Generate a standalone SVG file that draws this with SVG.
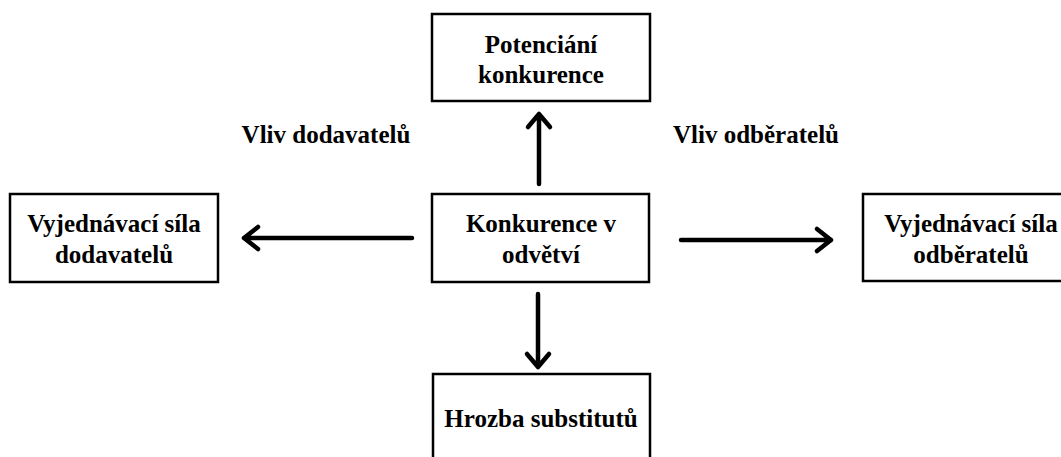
<svg xmlns="http://www.w3.org/2000/svg" width="1061" height="457" viewBox="0 0 1061 457">
<style>
.box{fill:#fff;stroke:#000;stroke-width:2.5}
.t{font-family:"Liberation Serif","Times New Roman",serif;font-weight:bold;font-size:25px;fill:#000;text-anchor:middle}
.c{fill:none;stroke:#000;stroke-width:4.5;stroke-linecap:round;stroke-linejoin:round}
</style>
<rect width="1061" height="457" fill="#fff"/>
<g id="potencialni">
<rect class="box" x="432" y="14" width="218" height="87"/>
<text class="t" x="541" y="53">Potenciání</text>
<text class="t" x="541" y="83">konkurence</text>
</g>
<g id="dodavatele">
<rect class="box" x="10" y="194" width="208" height="88"/>
<text class="t" x="114" y="232">Vyjednávací síla</text>
<text class="t" x="114" y="263">dodavatelů</text>
</g>
<g id="konkurence">
<rect class="box" x="432" y="194" width="217" height="88"/>
<text class="t" x="541" y="232">Konkurence v</text>
<text class="t" x="541" y="263">odvětví</text>
</g>
<g id="odberatele">
<rect class="box" x="863" y="194" width="220" height="87"/>
<text class="t" x="971" y="232">Vyjednávací síla</text>
<text class="t" x="971" y="263">odběratelů</text>
</g>
<g id="substituty">
<rect class="box" x="433" y="374" width="217" height="100"/>
<text class="t" x="541" y="427">Hrozba substitutů</text>
</g>
<g id="labels">
<text class="t" x="326" y="143">Vliv dodavatelů</text>
<text class="t" x="756" y="143">Vliv odběratelů</text>
</g>
<g id="connectors">
<path class="c" d="M539 184V114M528 127L539 114L550 127"/>
<path class="c" d="M412 238H244M258 227L244 238L258 249"/>
<path class="c" d="M681 240H831M817 229L831 240L817 251"/>
<path class="c" d="M538 294V367M527 354L538 367L549 354"/>
</g>
</svg>
